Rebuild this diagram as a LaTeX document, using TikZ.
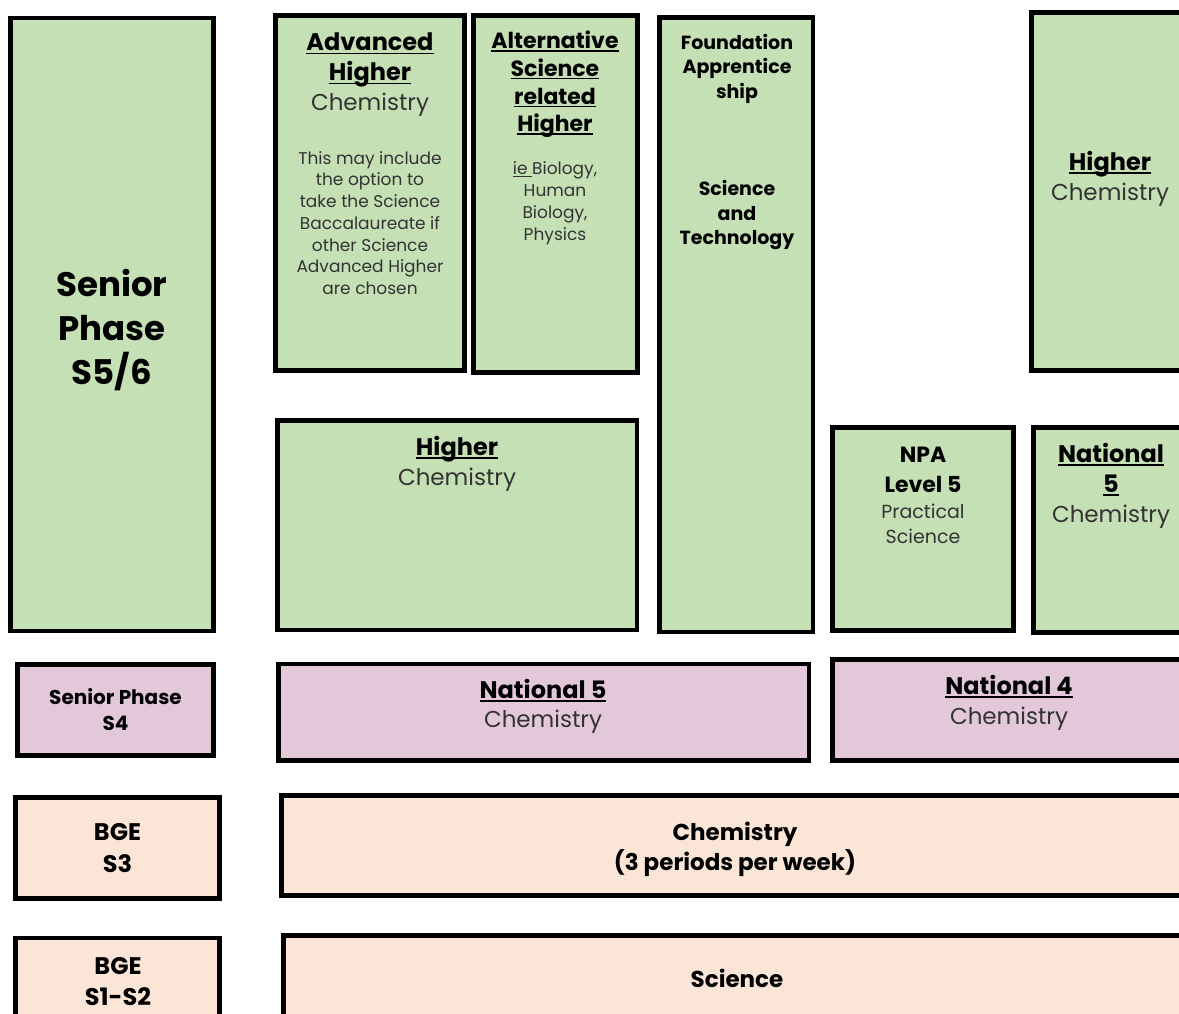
\documentclass[tikz,border=0pt]{standalone}
\usepackage{fontspec}
\setmainfont{Poppins}
\usepackage{xcolor}
\definecolor{boxgreen}{HTML}{C5E0B4}
\definecolor{boxpink}{HTML}{E3C8DA}
\definecolor{boxpeach}{HTML}{FBE5D6}
\definecolor{bodygray}{HTML}{333333}
\newcommand{\fs}[2]{\fontsize{#1}{#2}\selectfont}
\newcommand{\uln}[1]{\setbox0\hbox{#1}\rlap{\rule[-3pt]{\wd0}{1.4pt}}\box0}
\newcommand{\head}[1]{{\bfseries\uln{#1}}}
\newcommand{\chemword}{{\fontsize{23}{30}\selectfont\color{bodygray}Chemistry}}

\tikzset{
  phase/.style={draw=black, line width=4.5pt, inner sep=0pt, align=center},
  greenbox/.style={phase, fill=boxgreen},
  pinkbox/.style={phase, fill=boxpink},
  peachbox/.style={phase, fill=boxpeach},
  boxtext/.style={align=center, inner sep=0pt, text=black},
  bodytext/.style={boxtext, text=bodygray}
}

\begin{document}
\begin{tikzpicture}[x=1pt, y=1pt]
\clip (0,0) rectangle (1179,-1013);
% senior phase S5/6
\node[greenbox, minimum width=203, minimum height=613] (sp56) at (112,-324.5) {};
\node[greenbox, minimum width=189, minimum height=355] (ahigh) at (370,-193) {};
\node[greenbox, minimum width=164, minimum height=357] (alt) at (555.5,-194) {};
\node[greenbox, minimum width=153.5, minimum height=614.5] (found) at (736.25,-324.75) {};
\node[greenbox, minimum width=168.5, minimum height=358] (higtop) at (1115.75,-191.5) {};
\node[greenbox, minimum width=359.5, minimum height=209.5] (higmid) at (457.25,-525.25) {};
\node[greenbox, minimum width=181, minimum height=203] (npa) at (923,-529) {};
\node[greenbox, minimum width=166.5, minimum height=205] (natfr) at (1116.75,-530) {};

\node[boxtext, font=\fs{34}{44}\bfseries] (sp56T) at (112,-330) {Senior\\Phase\\S5/6};
\node[boxtext, font=\fs{24}{30}] (ahighT) at (370,-75) {\head{Advanced}\\\head{Higher}\\\chemword};
\node[bodytext, font=\fs{17}{21.8}] (ahighB) at (370,-223) {This may include\\the option to\\take the Science\\Baccalaureate if\\other Science\\Advanced Higher\\are chosen};
\node[boxtext, font=\fs{22}{27.7}] (altT) at (555,-84.5) {\head{Alternative}\\\head{Science}\\\head{related}\\\head{Higher}};
\node[bodytext, font=\fs{17}{22}] (altB) at (555,-203) {\uln{ie }Biology,\\Human\\Biology,\\Physics};
\node[boxtext, font=\fs{19}{24.5}\bfseries] (foundT) at (737,-68.5) {Foundation\\Apprentice\\ship};
\node[boxtext, font=\fs{19}{24.5}\bfseries] (foundB) at (737,-215) {Science\\and\\Technology};
\node[boxtext, font=\fs{24}{30}] (higtopT) at (1110,-179) {\head{Higher}\\\chemword};
\node[boxtext, font=\fs{24}{30}] (higmidT) at (457,-464) {\head{Higher}\\\chemword};
\node[boxtext, font=\fs{22}{30}\bfseries] (npaT) at (923,-470) {NPA\\Level 5};
\node[bodytext, font=\fs{19}{25}] (npaB) at (923,-523.5) {Practical\\Science};
\node[boxtext, font=\fs{24}{30}] (natfrT) at (1111,-486) {\head{National}\\\head{5}\\\chemword};

% senior phase S4
\node[pinkbox, minimum width=196, minimum height=91, font=\fs{20}{26}\bfseries] (spfour) at (115.5,-710) {Senior Phase\\S4};
\node[pinkbox, minimum width=530.5, minimum height=96.5] (natfp) at (543.75,-712.25) {};
\node[pinkbox, minimum width=367.5, minimum height=101] (natfour) at (1016.25,-710) {};
\node[boxtext, font=\fs{24}{29}] (natfpT) at (543,-706.5) {\head{National 5}\\\chemword};
\node[boxtext, font=\fs{24}{30}] (natfourT) at (1009,-703) {\head{National 4}\\\chemword};

% broad general education
\node[peachbox, minimum width=204, minimum height=101, font=\fs{24}{32}\bfseries] (bgethree) at (117.5,-848) {BGE\\S3};
\node[peachbox, minimum width=918.5, minimum height=100] (chem) at (740.75,-845.5) {};
\node[boxtext, font=\fs{23}{30}\bfseries] (chemT) at (735,-849) {Chemistry\\(3 periods per week)};
\node[peachbox, minimum width=204, minimum height=101.5] (bgeone) at (117.5,-988.75) {};
\node[peachbox, minimum width=916.5, minimum height=104.5] (sci) at (741.75,-987.75) {};
\node[boxtext, font=\fs{24}{31}\bfseries] (bgeoneT) at (118,-982) {BGE\\S1-S2};
\node[boxtext, font=\fs{23}{30}\bfseries] (sciT) at (737,-978) {Science};
\end{tikzpicture}
\end{document}
